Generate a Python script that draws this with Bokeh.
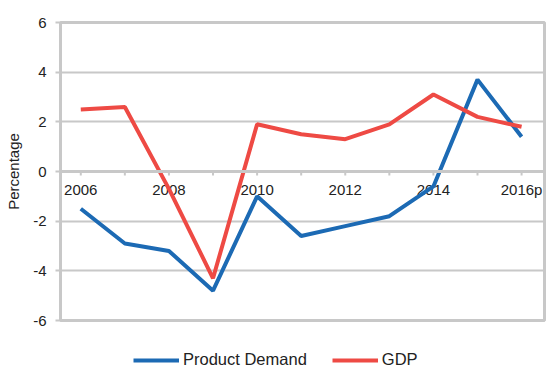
from bokeh.plotting import figure
from bokeh.models import Range1d, FixedTicker, Legend, LegendItem, Span
from bokeh.layouts import column
from bokeh.core.properties import value
from bokeh.embed import file_html
from bokeh.resources import INLINE

years = [2006, 2007, 2008, 2009, 2010, 2011, 2012, 2013, 2014, 2015, 2016]
tick_labels = ["2006", "", "2008", "", "2010", "", "2012", "", "2014", "", "2016p"]
y_ticks = [-6, -4, -2, 0, 2, 4, 6]
product_demand = [-1.5, -2.9, -3.2, -4.8, -1.0, -2.6, -2.2, -1.8, -0.6, 3.7, 1.4]
gdp = [2.5, 2.6, -0.7, -4.3, 1.9, 1.5, 1.3, 1.9, 3.1, 2.2, 1.8]
series_names = ["Product Demand", "GDP"]

FONT = "Liberation Sans"
GRID = "#c8c8c8"
BLUE = "#1c6ab4"
RED = "#ee4a44"
TXT = "#222222"

FRAME_H = 298
Y_MIN, Y_MAX = -6, 6
TICK_LEN = 4 * (Y_MAX - Y_MIN) / FRAME_H  # 4 px expressed in data units

p = figure(frame_width=484, frame_height=FRAME_H, output_backend="svg", toolbar_location=None,
           x_range=Range1d(2005.54, 2016.52), y_range=Range1d(Y_MIN, Y_MAX),
           x_axis_location=None,
           min_border_left=60, min_border_right=2, min_border_top=22, min_border_bottom=8)

# horizontal category axis drawn at zero
zeros = [0] * len(years)
p.add_layout(Span(location=0, dimension="width", line_color=GRID, line_width=3))
p.segment(x0=years, y0=zeros, x1=years, y1=[-TICK_LEN] * len(years),
          line_color=GRID, line_width=2)
p.text(x=years, y=zeros, text=tick_labels, text_align="center", text_baseline="middle",
       y_offset=18, text_font=value(FONT), text_font_size=value("15px"), text_color=TXT)

p.line(years, product_demand, line_color=BLUE, line_width=4)
p.line(years, gdp, line_color=RED, line_width=4)

ya = p.yaxis[0]
ya.ticker = FixedTicker(ticks=y_ticks)
ya.major_label_overrides = {t: str(t) for t in y_ticks}
ya.axis_line_color = GRID
ya.axis_line_width = 3
ya.major_tick_line_color = GRID
ya.major_tick_line_width = 2
ya.major_tick_in = 0
ya.major_tick_out = 5
ya.minor_tick_line_color = None
ya.major_label_text_font = FONT
ya.major_label_text_font_size = "15px"
ya.major_label_text_color = TXT
ya.major_label_standoff = 9
ya.axis_label = "Percentage"
ya.axis_label_text_font = FONT
ya.axis_label_text_font_size = "15px"
ya.axis_label_text_font_style = "normal"
ya.axis_label_text_color = TXT
ya.axis_label_standoff = 8

for g in p.xgrid:
    g.grid_line_color = None
p.ygrid.ticker = FixedTicker(ticks=y_ticks)
p.ygrid.grid_line_color = GRID
p.ygrid.grid_line_width = 2
p.outline_line_color = GRID
p.outline_line_width = 3

# legend strip below the chart (series drawn out of view; only the legend shows)
lg = figure(width=546, height=39, output_backend="svg", toolbar_location=None,
            x_range=Range1d(0, 1), y_range=Range1d(0, 1),
            x_axis_location=None, y_axis_location=None,
            min_border=0, outline_line_color=None)
lg.grid.visible = False
l1 = lg.line(years, product_demand, line_color=BLUE, line_width=4)
l2 = lg.line(years, gdp, line_color=RED, line_width=4)
legend = Legend(items=[LegendItem(label=series_names[0], renderers=[l1]),
                       LegendItem(label=series_names[1], renderers=[l2])],
                orientation="horizontal", location=(73, -2),
                label_text_font=FONT, label_text_font_size="16.5px", label_text_color=TXT,
                glyph_width=46, glyph_height=14, spacing=25, label_standoff=4,
                border_line_color=None, background_fill_alpha=0,
                margin=0, padding=0)
lg.add_layout(legend, "center")

open("out.html", "w").write(file_html(column(p, lg, spacing=0), INLINE))
